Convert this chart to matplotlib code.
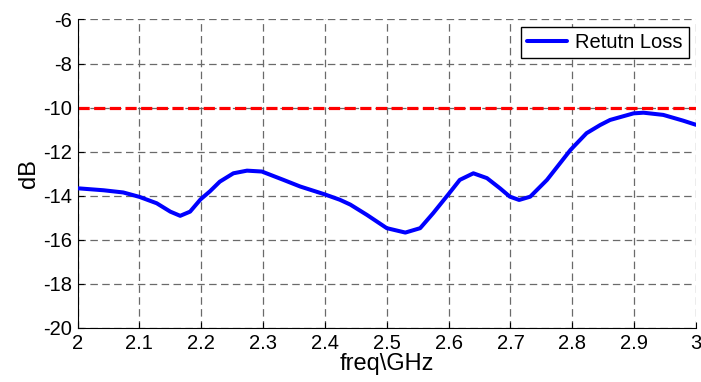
import matplotlib.pyplot as plt

plt.rcParams['font.family'] = ['Liberation Sans', 'DejaVu Sans']
plt.rcParams['axes.unicode_minus'] = False

# frequency (GHz) and return loss (dB)
freq = [2.000, 2.042, 2.074, 2.100, 2.128, 2.150, 2.166, 2.182, 2.199, 2.214,
        2.230, 2.252, 2.274, 2.298, 2.333, 2.360, 2.399, 2.424, 2.441, 2.468,
        2.500, 2.530, 2.554, 2.575, 2.600, 2.618, 2.640, 2.662, 2.683, 2.699,
        2.714, 2.732, 2.759, 2.797, 2.823, 2.845, 2.861, 2.899, 2.915, 2.947,
        2.979, 3.000]
loss = [-13.66, -13.75, -13.85, -14.05, -14.34, -14.72, -14.91, -14.72, -14.16, -13.80,
        -13.36, -12.98, -12.86, -12.90, -13.28, -13.58, -13.93, -14.18, -14.40, -14.87,
        -15.47, -15.67, -15.47, -14.79, -13.92, -13.28, -12.98, -13.20, -13.66, -14.04,
        -14.19, -14.04, -13.28, -11.92, -11.16, -10.79, -10.56, -10.26, -10.23, -10.33,
        -10.59, -10.78]

limit_db = -10
xticks = [2, 2.1, 2.2, 2.3, 2.4, 2.5, 2.6, 2.7, 2.8, 2.9, 3]
xticklabels = ["2", "2.1", "2.2", "2.3", "2.4", "2.5", "2.6", "2.7", "2.8", "2.9", "3"]
yticks = [-20, -18, -16, -14, -12, -10, -8, -6]

fig = plt.figure(figsize=(7.01, 3.82), dpi=100)
ax = fig.add_axes([0.1106, 0.1414, 0.8823, 0.8076])

ax.plot(freq, loss, color="blue", linewidth=2.9, label="Retutn Loss", zorder=3,
        solid_joinstyle="round", solid_capstyle="round")
ax.axhline(limit_db, color="red", linewidth=2.3, linestyle=(0, (3.5, 1.4)), zorder=2)

ax.set_xlim(2, 3)
ax.set_ylim(-20, -6)
ax.set_xticks(xticks)
ax.set_xticklabels(xticklabels)
ax.set_yticks(yticks)

ax.grid(True, color="#6a6a6a", linestyle=(0, (6, 3.5)), linewidth=0.9)
ax.set_axisbelow(True)

ax.spines["top"].set_visible(False)
ax.spines["right"].set_visible(False)
ax.tick_params(direction="in", length=4, labelsize=14.5, pad=4, colors="black")

ax.set_xlabel("freq\\GHz", fontsize=17, labelpad=0)
ax.set_ylabel("dB", fontsize=17, labelpad=2)

leg = ax.legend(loc="upper right", fontsize=14.5, fancybox=False,
                borderaxespad=0.35, handlelength=2.0, borderpad=0.3,
                handletextpad=0.4, framealpha=1)
leg.get_frame().set_edgecolor("black")
leg.get_frame().set_linewidth(1.0)

fig.savefig("out.png", dpi=100)
